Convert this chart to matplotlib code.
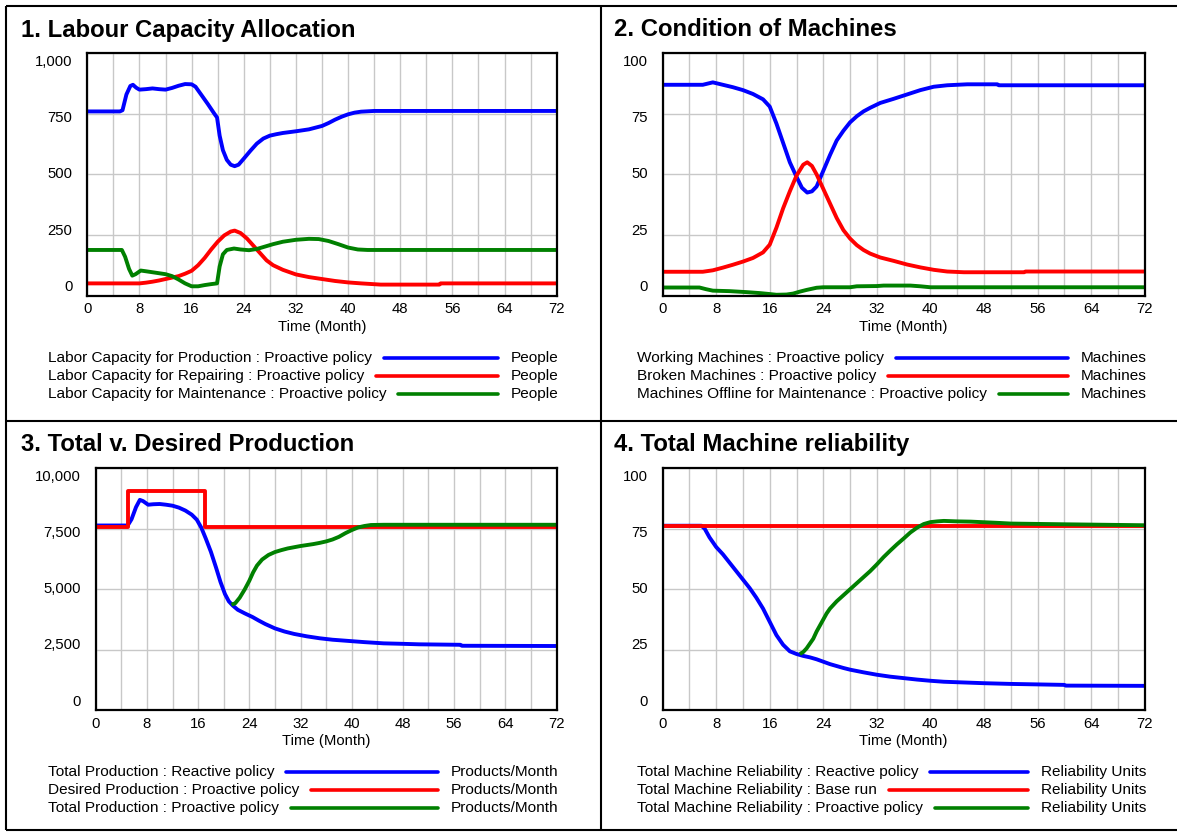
import matplotlib
matplotlib.use("Agg")
import matplotlib.pyplot as plt
from matplotlib.lines import Line2D
from matplotlib.transforms import ScaledTranslation

plt.rcParams['font.family'] = ['Liberation Sans', 'DejaVu Sans']

W, H = 1177, 835
BLUE, RED, GREEN = '#0000ff', '#ff0000', '#008000'

# ---------------- data ----------------
# Panel 1: Labour Capacity Allocation (People)
p1_prod_t = [0, 5, 5.4, 6, 6.6, 7, 7.5, 8, 9, 10, 11, 12, 13, 14, 15, 16, 16.6, 17.5, 18.5, 19.5, 19.9, 20.3,
             20.8, 21.4, 22, 22.6, 23.2, 24, 25, 26, 27, 28, 29, 30, 32, 34, 36, 37, 38, 39, 40, 41, 42, 44, 72]
p1_prod_v = [760, 760, 765, 830, 865, 870, 858, 850, 852, 855, 852, 850, 857, 866, 873, 872, 862, 828, 790, 750,
             735, 660, 600, 560, 540, 534, 540, 565, 597, 627, 648, 660, 666, 671, 678, 686, 700, 712, 726, 738,
             748, 755, 759, 762, 762]
p1_rep_t = [0, 8, 9, 10, 11, 12, 13, 14, 15, 16, 17, 18, 19, 20, 21, 22, 22.6, 23.5, 24.5, 25.5, 26.5, 27.5,
            28.5, 30, 32, 34, 36, 38, 40, 42, 45, 54, 54.2, 72]
p1_rep_v = [50, 50, 53, 57, 62, 68, 74, 80, 90, 102, 125, 155, 190, 222, 248, 264, 268, 258, 235, 205, 175, 145,
            125, 106, 87, 76, 68, 60, 54, 50, 45, 45, 50, 50]
p1_mnt_t = [0, 5.3, 5.8, 6.4, 6.9, 7.4, 8.2, 9, 10, 11, 12, 13, 14, 15, 16, 17, 18, 19, 19.9, 20.3, 20.8, 21.4,
            22.5, 23.5, 24.8, 26, 27, 28.5, 30, 32, 34, 35.5, 37, 38.5, 40, 41.5, 43, 72]
p1_mnt_v = [188, 188, 160, 110, 82, 88, 103, 100, 96, 92, 88, 80, 66, 50, 38, 38, 43, 47, 50, 120, 170, 188,
            194, 190, 187, 192, 200, 212, 222, 230, 234, 233, 225, 212, 198, 190, 188, 188]

# Panel 2: Condition of Machines (Machines)
p2_work_t = [0, 6, 7.5, 9, 10.5, 12, 13.5, 15, 16, 17, 18, 19, 20, 20.8, 21.6, 22.3, 23, 24, 25, 26, 27, 28, 29,
             30, 31, 32.5, 34.5, 36.5, 38.5, 40.5, 42.5, 45.5, 50, 50.2, 72]
p2_work_v = [87, 87, 88, 87, 86, 84.8, 83.2, 81, 78, 71, 63, 55, 49, 44.5, 42.5, 43, 45, 51.5, 58, 64, 68, 71.5,
             74, 76, 77.5, 79.5, 81.2, 83, 84.8, 86.2, 86.8, 87.2, 87.2, 86.8, 86.8]
p2_brok_t = [0, 6, 7.5, 9, 10.5, 12, 13.5, 15, 16, 17, 18, 19, 20, 21, 21.6, 22.3, 23, 24, 25, 26, 27, 28, 29,
             30, 31, 32.5, 34.5, 36.5, 38.5, 40.5, 42.5, 45, 54, 54.2, 72]
p2_brok_v = [9.8, 9.8, 10.4, 11.5, 12.7, 14, 15.5, 17.8, 21, 28, 36, 43, 49.5, 54, 55, 53.5, 50, 44, 38, 32, 27,
             23.5, 20.8, 18.8, 17.3, 15.7, 14.3, 12.8, 11.6, 10.6, 9.9, 9.6, 9.6, 9.9, 9.9]
p2_off_t = [0, 5.5, 6.5, 7.5, 10, 12.5, 14.5, 16, 17, 18.5, 19.5, 20.5, 21.5, 23, 24, 28, 29, 32, 33, 37, 38.5,
            40, 72]
p2_off_v = [3.3, 3.3, 2.6, 2.0, 1.8, 1.4, 1.0, 0.6, 0.3, 0.4, 0.8, 1.6, 2.3, 3.2, 3.4, 3.4, 3.8, 3.9, 4.1, 4.1,
            3.8, 3.4, 3.4]

# Panel 3: Total v. Desired Production (Products/Month)
p3_react_t = [0, 5, 5.6, 6.3, 6.9, 7.4, 8.2, 9, 10, 11, 12, 13, 14, 15, 15.8, 16.5, 17.2, 18, 18.8, 19.5, 20.2,
              20.8, 21.4, 22.2, 23.3, 24.5, 25.5, 26.5, 28, 29.5, 31, 33, 35, 37, 39, 42, 45, 48, 50.5, 57,
              57.2, 72]
p3_react_v = [7640, 7640, 7900, 8400, 8700, 8650, 8500, 8520, 8530, 8500, 8460, 8380, 8260, 8090, 7880, 7550,
              7100, 6550, 5900, 5300, 4800, 4500, 4330, 4150, 4000, 3850, 3700, 3560, 3380, 3250, 3150, 3050,
              2970, 2910, 2870, 2810, 2760, 2740, 2720, 2700, 2660, 2650]
p3_des_t = [0, 5, 5, 17, 17, 72]
p3_des_v = [7560, 7560, 9070, 9070, 7560, 7560]
p3_pro_t = [21.2, 21.8, 22.5, 23.3, 24, 24.6, 25.2, 26, 27, 28, 29, 30, 31, 32, 33, 34, 35, 36, 37, 38, 39, 40,
            41, 42, 43, 45, 72]
p3_pro_v = [4360, 4420, 4650, 5000, 5350, 5700, 5980, 6230, 6420, 6540, 6620, 6690, 6740, 6790, 6830, 6870,
            6920, 6980, 7060, 7170, 7320, 7450, 7560, 7620, 7660, 7670, 7670]

# Panel 4: Total Machine reliability (Reliability Units)
p4_react_t = [0, 5.8, 6.3, 7, 8, 9, 10, 11, 12, 13, 14, 15, 16, 17, 18, 19, 20, 21, 22, 23, 24, 25, 26, 27,
              28, 30, 32, 34, 36, 38, 40, 42, 45, 48, 52, 60, 60.2, 72]
p4_react_v = [76.3, 76.3, 75, 71.5, 67.5, 64.5, 61, 57.5, 54, 50.5, 46.5, 42, 36.5, 31, 27, 24.3, 23.2, 22.4,
              21.8, 21, 20, 19, 18.2, 17.4, 16.7, 15.6, 14.6, 13.8, 13.2, 12.6, 12.1, 11.7, 11.4, 11.1, 10.8,
              10.4, 10.1, 10]
p4_base_t = [0, 72]
p4_base_v = [76.3, 76.3]
p4_pro_t = [20.5, 21, 21.5, 22, 22.5, 23, 23.5, 24, 24.5, 25, 26, 27, 28, 29, 30, 31, 32, 33, 34, 35, 36, 37,
            38, 39, 40, 41, 42, 44, 46, 50, 52, 60, 72]
p4_pro_v = [23.2, 24, 25.5, 27.5, 29.5, 32.5, 35, 37.5, 40, 42, 45, 47.5, 50, 52.5, 55, 57.5, 60.3, 63.3, 66,
            68.6, 71, 73.5, 75.5, 77, 77.8, 78.1, 78.3, 78.1, 78, 77.5, 77.2, 76.9, 76.5]

titles = ["1. Labour Capacity Allocation", "2. Condition of Machines",
          "3. Total v. Desired Production", "4. Total Machine reliability"]
x_ticks = list(range(0, 73, 8))
x_grid = list(range(0, 73, 4))
p1_yticks = [0, 250, 500, 750, 1000]
p1_ylabels = ["0", "250", "500", "750", "1,000"]
p2_yticks = [0, 25, 50, 75, 100]
p2_ylabels = ["0", "25", "50", "75", "100"]
p3_yticks = [0, 2500, 5000, 7500, 10000]
p3_ylabels = ["0", "2,500", "5,000", "7,500", "10,000"]
p4_yticks = [0, 25, 50, 75, 100]
p4_ylabels = ["0", "25", "50", "75", "100"]

p1_names = ["Labor Capacity for Production : Proactive policy",
            "Labor Capacity for Repairing : Proactive policy",
            "Labor Capacity for Maintenance : Proactive policy"]
p2_names = ["Working Machines : Proactive policy",
            "Broken Machines : Proactive policy",
            "Machines Offline for Maintenance : Proactive policy"]
p3_names = ["Total Production : Reactive policy",
            "Desired Production : Proactive policy",
            "Total Production : Proactive policy"]
p4_names = ["Total Machine Reliability : Reactive policy",
            "Total Machine Reliability : Base run",
            "Total Machine Reliability : Proactive policy"]
p1_unit, p2_unit, p3_unit, p4_unit = "People", "Machines", "Products/Month", "Reliability Units"

# ---------------- layout (pixel boxes) ----------------
panels = [
    dict(box=(87.3, 53.3, 556.7, 295.5), title_xy=(20.5, 36.5), yticks=p1_yticks, ylabels=p1_ylabels,
         series=[(p1_prod_t, p1_prod_v, BLUE), (p1_rep_t, p1_rep_v, RED), (p1_mnt_t, p1_mnt_v, GREEN)],
         names=p1_names, unit=p1_unit, leg_x=47.8, leg_y=[357.7, 375.7, 393.7]),
    dict(box=(662.6, 53.3, 1144.7, 295.5), title_xy=(614.5, 36.5), yticks=p2_yticks, ylabels=p2_ylabels,
         series=[(p2_work_t, p2_work_v, BLUE), (p2_brok_t, p2_brok_v, RED), (p2_off_t, p2_off_v, GREEN)],
         names=p2_names, unit=p2_unit, leg_x=636.8, leg_y=[357.7, 375.7, 393.7]),
    dict(box=(95.7, 468.5, 556.5, 710.0), title_xy=(20.5, 450.5), yticks=p3_yticks, ylabels=p3_ylabels,
         series=[(p3_react_t, p3_react_v, BLUE), (p3_des_t, p3_des_v, RED), (p3_pro_t, p3_pro_v, GREEN)],
         names=p3_names, unit=p3_unit, leg_x=47.8, leg_y=[772.0, 790.0, 808.0]),
    dict(box=(662.6, 468.5, 1144.7, 710.0), title_xy=(614.5, 450.5), yticks=p4_yticks, ylabels=p4_ylabels,
         series=[(p4_react_t, p4_react_v, BLUE), (p4_base_t, p4_base_v, RED), (p4_pro_t, p4_pro_v, GREEN)],
         names=p4_names, unit=p4_unit, leg_x=636.8, leg_y=[772.0, 790.0, 808.0]),
]

fig = plt.figure(figsize=(W / 100, H / 100), dpi=100, facecolor='white')

def fx(x):
    return x / W

def fy(y):
    return 1 - y / H

# panel borders
border_kw = dict(color='black', lw=1.5, transform=fig.transFigure, solid_capstyle='butt')
fig.add_artist(Line2D([fx(5.7), fx(5.7)], [fy(6), fy(830)], **border_kw))
fig.add_artist(Line2D([fx(5.7), 1.0], [fy(6), fy(6)], **border_kw))
fig.add_artist(Line2D([fx(5.7), 1.0], [fy(830), fy(830)], **border_kw))
fig.add_artist(Line2D([fx(601), fx(601)], [fy(6), fy(830)], **border_kw))
fig.add_artist(Line2D([fx(5.7), 1.0], [fy(421), fy(421)], **border_kw))

TICK_FS = 10.7
LEG_FS = 11.1
legend_items = []

for i, p in enumerate(panels):
    l, t, r, b = p['box']
    ax = fig.add_axes([fx(l), fy(b), fx(r) - fx(l), fy(t) - fy(b)])
    ax.set_xlim(0, 72)
    ymax = p['yticks'][-1]
    ax.set_ylim(0, ymax)
    ax.set_xticks(x_ticks)
    ax.set_xticks(x_grid, minor=True)
    ax.set_yticks(p['yticks'])
    ax.grid(True, which='both', axis='x', color='#c8c8c8', lw=1.0)
    ax.grid(True, which='major', axis='y', color='#c8c8c8', lw=1.0)
    ax.set_axisbelow(True)
    ax.tick_params(axis='both', which='both', length=0)
    ax.tick_params(axis='x', labelsize=TICK_FS, pad=5)
    ax.tick_params(axis='y', labelleft=False)
    for s in ax.spines.values():
        s.set_linewidth(1.6)
        s.set_color('black')
        s.set_zorder(5)
    ax.set_xlabel("Time (Month)", fontsize=TICK_FS, labelpad=2.5)
    # Vensim-style y labels (slightly drawn in toward the centre)
    for v, lab in zip(p['yticks'], p['ylabels']):
        frac = v / ymax
        off = ScaledTranslation(-15 / 100, (-8.5 * (2 * frac - 1)) / 100, fig.dpi_scale_trans)
        ax.text(0, v, lab, transform=ax.get_yaxis_transform() + off, ha='right', va='center',
                fontsize=TICK_FS)
    for (ts, vs, c) in p['series']:
        ax.plot(ts, vs, color=c, lw=2.8, solid_joinstyle='round', solid_capstyle='butt', zorder=3,
                clip_on=False)
    fig.text(fx(p['title_xy'][0]), fy(p['title_xy'][1]), titles[i], fontsize=17.2, fontweight='bold',
             ha='left', va='baseline')
    for k, name in enumerate(p['names']):
        yy = p['leg_y'][k]
        tl = fig.text(fx(p['leg_x']), fy(yy), name, fontsize=LEG_FS, ha='left', va='center')
        tu = fig.text(fx(r + 1.5), fy(yy), p['unit'], fontsize=LEG_FS, ha='right', va='center')
        legend_items.append((tl, tu, yy, p['series'][k][2]))

fig.canvas.draw()
renderer = fig.canvas.get_renderer()
for tl, tu, yy, c in legend_items:
    x_start = tl.get_window_extent(renderer).x1 + 12
    x_end = tu.get_window_extent(renderer).x0 - 12.5
    fig.add_artist(Line2D([x_start / W, x_end / W], [fy(yy), fy(yy)], color=c, lw=2.6,
                          solid_capstyle='round', transform=fig.transFigure))

fig.savefig("out.png", dpi=100, facecolor='white')
